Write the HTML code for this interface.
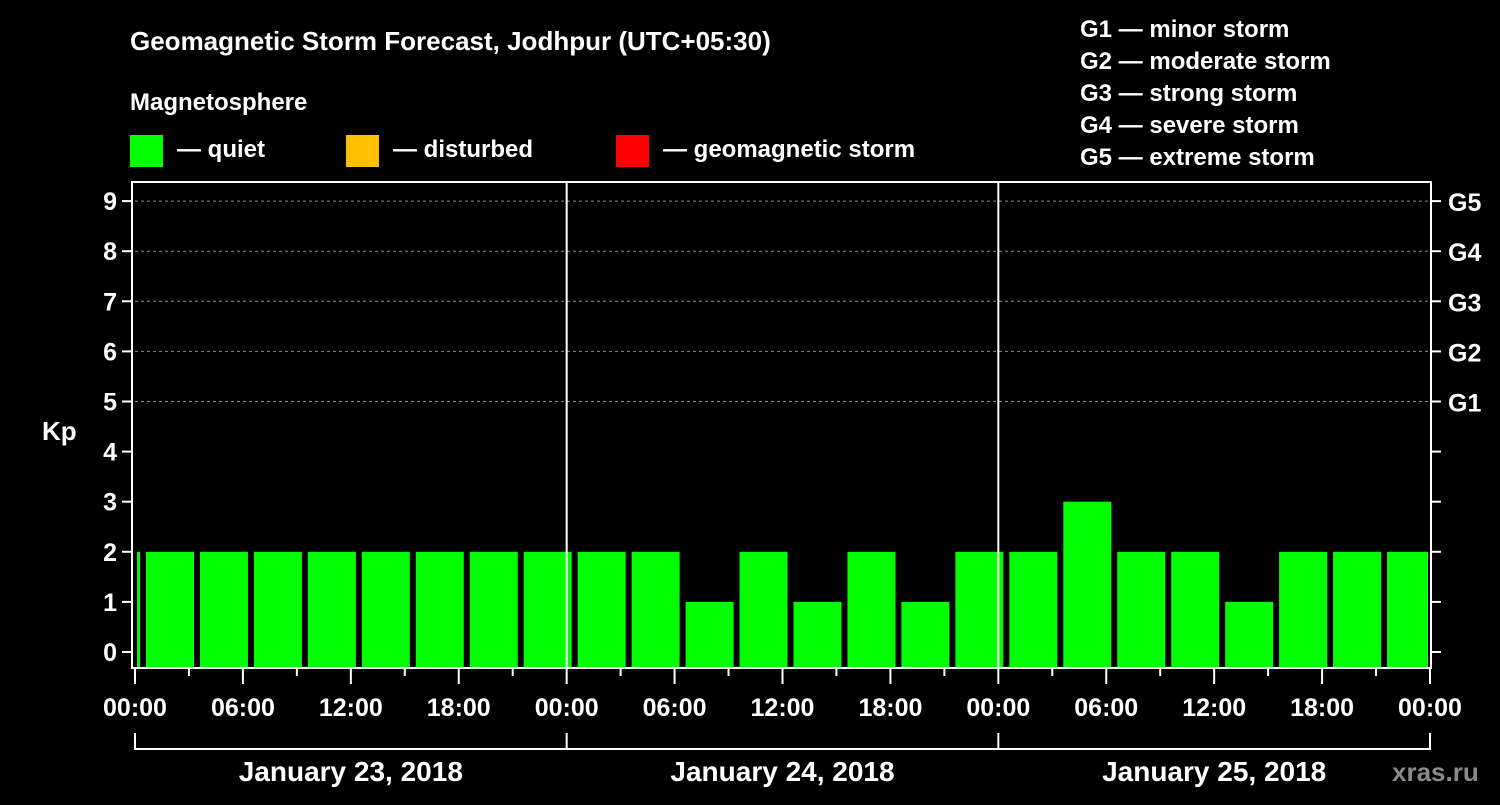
<!DOCTYPE html>
<html><head><meta charset="utf-8"><style>
body{margin:0;background:#000;}
svg text{font-family:"Liberation Sans",sans-serif;font-weight:bold;fill:#fff;}
</style></head><body>
<svg id="c" width="1500" height="800" xmlns="http://www.w3.org/2000/svg">
<rect width="1500" height="800" fill="#000"/>
<text x="130" y="50" font-size="26">Geomagnetic Storm Forecast, Jodhpur (UTC+05:30)</text>
<text x="130" y="110" font-size="24">Magnetosphere</text>
<rect x="130" y="135" width="33" height="32" fill="#00ff00"/>
<text x="177" y="157" font-size="24">— quiet</text>
<rect x="346" y="135" width="33" height="32" fill="#ffc000"/>
<text x="393" y="157" font-size="24">— disturbed</text>
<rect x="616" y="135" width="33" height="32" fill="#ff0000"/>
<text x="663" y="157" font-size="24">— geomagnetic storm</text>
<g font-size="24">
<text x="1080" y="37">G1 — minor storm</text>
<text x="1080" y="69">G2 — moderate storm</text>
<text x="1080" y="101">G3 — strong storm</text>
<text x="1080" y="133">G4 — severe storm</text>
<text x="1080" y="165">G5 — extreme storm</text>
</g>
<text x="42" y="440" font-size="26">Kp</text>
<g id="plot"></g>
<text x="1392" y="781" font-size="26" fill="#888" style="fill:#8a8a8a">xras.ru</text>
</svg>
<script>
const values=[2,2,2,2,2,2,2,2,2,2,2,1,2,1,2,1,2,2,3,2,2,1,2,2,2];
const yTicks=[0,1,2,3,4,5,6,7,8,9];
const gLabels=["G1","G2","G3","G4","G5"];
const xLabels=["00:00","06:00","12:00","18:00","00:00","06:00","12:00","18:00","00:00","06:00","12:00","18:00","00:00"];
const days=["January 23, 2018","January 24, 2018","January 25, 2018"];
const NS="http://www.w3.org/2000/svg";
const L=135,R=1430,T=182,B=668;
const hx=h=>L+h*(R-L)/72;            // hours since start -> px
const y=v=>652-v*50.1;
const g=document.getElementById('plot');
function mk(tag,a){const e=document.createElementNS(NS,tag);for(const k in a)e.setAttribute(k,a[k]);g.appendChild(e);return e;}
// grid
for(let v=5;v<=9;v++){const e=mk('line',{x1:L,x2:R,y1:y(v),y2:y(v),stroke:'#888','stroke-dasharray':'3,3','stroke-width':1});

}
// bars: slot k starts at hour 3k - 2.5 (UTC offset)
values.forEach((v,k)=>{let x0=hx(3*k-2.5)+2,x1=x0+48;x0=Math.max(x0,L+2);x1=Math.min(x1,R-2);
const e=mk('rect',{x:x0,y:y(v),width:x1-x0,height:B-y(v),fill:'#00ff00'});

});
// day separators
[24,48].forEach(h=>{const e=mk('line',{x1:hx(h),x2:hx(h),y1:T,y2:B,stroke:'#fff','stroke-width':2});

});
// frame
const fr=mk('rect',{x:132,y:T,width:R-132+1,height:B-T,fill:'none',stroke:'#fff','stroke-width':2});


// y ticks
yTicks.forEach(v=>{mk('line',{x1:122,x2:132,y1:y(v),y2:y(v),stroke:'#fff','stroke-width':2});
mk('line',{x1:R+1,x2:R+11,y1:y(v),y2:y(v),stroke:'#fff','stroke-width':2});
const t=mk('text',{x:117,y:y(v)+9,'font-size':25,'text-anchor':'end'});t.textContent=v;

});
gLabels.forEach((s,i)=>{const t=mk('text',{x:1448,y:y(5+i)+10,'font-size':25});t.textContent=s;

});
// x ticks
for(let h=0;h<=72;h+=3){const maj=h%6==0;mk('line',{x1:hx(h),x2:hx(h),y1:B,y2:B+(maj?16:8),stroke:'#fff','stroke-width':2});}
xLabels.forEach((s,i)=>{const t=mk('text',{x:hx(i*6),y:716,'font-size':25,'text-anchor':'middle'});t.textContent=s;

});
// date bracket
mk('line',{x1:L,x2:R,y1:749,y2:749,stroke:'#fff','stroke-width':2});
[0,24,48,72].forEach(h=>mk('line',{x1:hx(h),x2:hx(h),y1:733,y2:750,stroke:'#fff','stroke-width':2}));
days.forEach((d,i)=>{const t=mk('text',{x:hx(i*24+12),y:781,'font-size':28,'text-anchor':'middle'});t.textContent=d;

});
</script>
</body></html>
